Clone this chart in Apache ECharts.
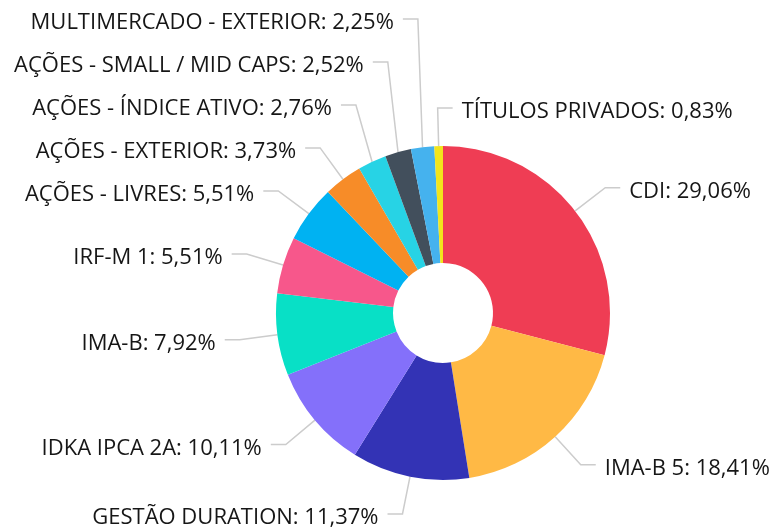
<!DOCTYPE html>
<html>
<head>
<meta charset="utf-8">
<script src="https://cdn.jsdelivr.net/npm/echarts@6/dist/echarts.min.js"></script>
<style>
  html, body { margin: 0; padding: 0; background: #fff; }
  #chart { width: 774px; height: 530px; }
</style>
</head>
<body>
<div id="chart"></div>
<script>
const categories = [
  'CDI', 'IMA-B 5', 'GESTÃO DURATION', 'IDKA IPCA 2A', 'IMA-B', 'IRF-M 1',
  'AÇÕES - LIVRES', 'AÇÕES - EXTERIOR', 'AÇÕES - ÍNDICE ATIVO',
  'AÇÕES - SMALL / MID CAPS', 'MULTIMERCADO - EXTERIOR', 'TÍTULOS PRIVADOS'
];
const values = [29.06, 18.41, 11.37, 10.11, 7.92, 5.51, 5.51, 3.73, 2.76, 2.52, 2.25, 0.83];
const colors = [
  '#ef3d54', '#ffb945', '#3333b5', '#8470fa', '#08e0c6', '#f7578b',
  '#00b2f2', '#f78c28', '#27d3e5', '#424f5c', '#45b2ee', '#f2e51c'
];

const LABEL_GAP = 43;   // min vertical distance between stacked left labels
const SEG2 = 15;        // horizontal part of the label line
const TEXT_GAP = 9;     // line end -> text
const TEXT_DROP = 4;    // text sits a bit below its line

const chart = echarts.init(document.getElementById('chart'));

// labels are visited in data order; left-side ones go upward with the index
let lastLeftY = null;
function layoutLabel(params) {
  const i = params.dataIndex;
  const pts = params.labelLinePoints;
  if (i === 0) lastLeftY = null;
  if (!pts) return {};
  const last = categories.length - 1;
  const x0 = pts[1][0];
  const isLeft = pts[2][0] < pts[1][0];
  let y = pts[1][1];
  let right = !isLeft;
  if (i === last) {
    // tiny last slice: label goes on the right, above the slice
    right = true;
  } else if (isLeft && i >= 5) {
    if (lastLeftY !== null && y > lastLeftY - LABEL_GAP) y = lastLeftY - LABEL_GAP;
    lastLeftY = y;
  }
  const dir = right ? 1 : -1;
  return {
    x: x0 + dir * (SEG2 + TEXT_GAP),
    y: y + TEXT_DROP,
    align: right ? 'left' : 'right',
    verticalAlign: 'middle',
    labelLinePoints: [pts[0], [x0, y], [x0 + dir * SEG2, y]]
  };
}

const option = {
  animation: false,
  color: colors,
  series: [
    {
      type: 'pie',
      center: [443, 313],
      radius: [50, 167],
      startAngle: 90,
      clockwise: true,
      avoidLabelOverlap: false,
      label: {
        show: true,
        fontFamily: 'Open Sans',
        fontSize: 22,
        color: '#161616',
        distanceToLabelLine: TEXT_GAP,
        formatter: p => p.name + ': ' + p.value.toFixed(2).replace('.', ',') + '%'
      },
      labelLine: {
        length: 38,
        length2: SEG2,
        lineStyle: { color: '#cccccc', width: 1.5 }
      },
      labelLayout: layoutLabel,
      data: categories.map((c, i) => ({ name: c, value: values[i] }))
    }
  ]
};

chart.setOption(option);
</script>
</body>
</html>
